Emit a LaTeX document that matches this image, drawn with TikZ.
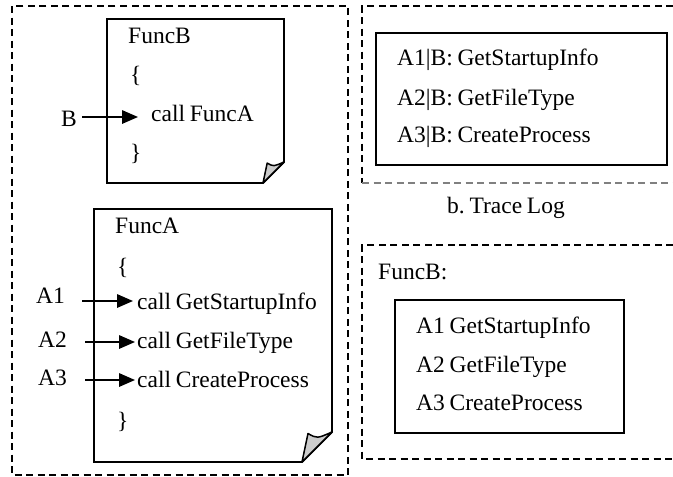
\documentclass[tikz,border=0pt]{standalone}
\usepackage{fontspec}
\setmainfont[WordSpace=0.8]{Liberation Serif}
\usetikzlibrary{arrows.meta}
\frenchspacing

% a sheet of paper with a curled bottom-right corner: left, top, right, bottom, curl size
\newcommand\docpage[5]{%
  \draw[paper] (#1,#2) -- (#3,#2) -- (#3,#4-#5) -- (#3-#5,#4) -- (#1,#4) -- cycle;
  \draw[curl] (#3-#5,#4) -- (#3-0.8*#5,#4-0.95*#5)
    .. controls (#3-0.5*#5,#4-0.78*#5) .. (#3,#4-#5) -- cycle;}

\begin{document}
\begin{tikzpicture}[x=1pt,y=-1pt,
  txt/.style={anchor=base west,inner sep=0pt,font=\fontsize{23.5}{28}\selectfont},
  frame/.style={draw,dash pattern=on 7pt off 4.5pt,line width=1.8pt},
  box/.style={draw,line width=2pt},
  arr/.style={line width=1.6pt,-{Triangle[length=16pt,width=13.5pt]}},
  paper/.style={draw,line width=1.9pt,fill=white},
  curl/.style={draw,line width=1.5pt,fill=gray!40,line join=round}]
\useasboundingbox (0,0) rectangle (673,477);

% dashed panels
\draw[frame] (12,6) rectangle (348,475);
\draw[frame] (673,6) -- (362,6) -- (362,183);
\draw[frame,gray] (362,183) -- (673,183);
\draw[frame] (673,245) -- (362,245) -- (362,459) -- (673,459);

% source of FuncB
\docpage{107}{19}{284}{183}{21}
\node[txt] (fb) at (128,43) {FuncB};
\node[txt] (fbo) at (130,82) {\{};
\node[txt] (callA) at (151,121) {call FuncA};
\node[txt] (fbc) at (130,160) {\}};
\node[txt] (B) at (61,126) {B};
\coordinate (sB) at (82,117);
\draw[arr,shorten >=13pt] (sB) -- (sB -| callA.west);

% source of FuncA
\docpage{94}{209}{332}{462}{30}
\node[txt] (fa) at (115,233) {FuncA};
\node[txt] (fao) at (117,274) {\{};
\node[txt] (c1) at (137,309) {call GetStartupInfo};
\node[txt] (c2) at (137,348) {call GetFileType};
\node[txt] (c3) at (137,387) {call CreateProcess};
\node[txt] (fac) at (117,428) {\}};
\node[txt] (A1) at (36,303) {A1};
\node[txt] (A2) at (38,347) {A2};
\node[txt] (A3) at (38,385) {A3};
\coordinate (sA1) at (82,301);
\coordinate (sA2) at (85,342);
\coordinate (sA3) at (85,380);
\draw[arr,shorten >=4pt] (sA1) -- (sA1 -| c1.west);
\draw[arr,shorten >=2pt] (sA2) -- (sA2 -| c2.west);
\draw[arr,shorten >=2pt] (sA3) -- (sA3 -| c3.west);

% trace log
\draw[box] (376,33) rectangle (667,165);
\node[txt] (t1) at (397,65) {A1|B: GetStartupInfo};
\node[txt] (t2) at (397,105) {A2|B: GetFileType};
\node[txt] (t3) at (397,142) {A3|B: CreateProcess};
\node[txt,anchor=base] (cap) at (506,213) {b. Trace Log};

% per-function summary
\node[txt] (fbl) at (378,279) {FuncB:};
\draw[box] (395,300) rectangle (624,433);
\node[txt] (s1) at (416,333) {A1 GetStartupInfo};
\node[txt] (s2) at (416,372) {A2 GetFileType};
\node[txt] (s3) at (416,410) {A3 CreateProcess};
\end{tikzpicture}
\end{document}
